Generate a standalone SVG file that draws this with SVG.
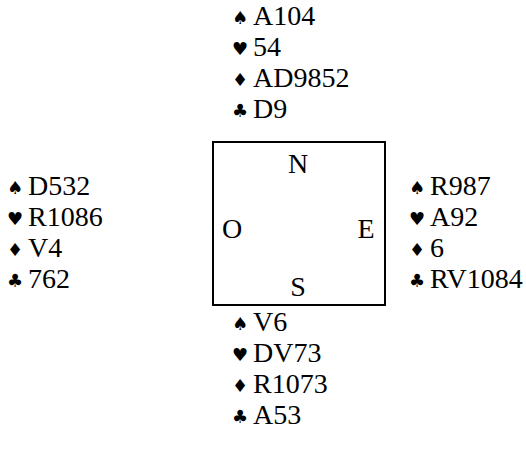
<svg xmlns="http://www.w3.org/2000/svg" width="526" height="457" viewBox="0 0 526 457">
<style>
text{font-family:"Liberation Serif","Times New Roman",serif;font-size:28px;fill:#000}
.s{font-family:"DejaVu Serif","DejaVu Sans",serif;font-size:18px}
</style>
<rect width="526" height="457" fill="#fff"/>
<g id="north">
<text class="s" x="232" y="24">♠</text><text x="253" y="25">A104</text>
<text class="s" x="232" y="55">♥</text><text x="253" y="56">54</text>
<text class="s" x="232" y="86">♦</text><text x="253" y="87">AD9852</text>
<text class="s" x="232" y="117">♣</text><text x="253" y="118">D9</text>
</g>
<g id="west">
<text class="s" x="7" y="194">♠</text><text x="28" y="195">D532</text>
<text class="s" x="7" y="225">♥</text><text x="28" y="226">R1086</text>
<text class="s" x="7" y="256">♦</text><text x="28" y="257">V4</text>
<text class="s" x="7" y="287">♣</text><text x="28" y="288">762</text>
</g>
<g id="east">
<text class="s" x="409" y="194">♠</text><text x="430" y="195">R987</text>
<text class="s" x="409" y="225">♥</text><text x="430" y="226">A92</text>
<text class="s" x="409" y="256">♦</text><text x="430" y="257">6</text>
<text class="s" x="409" y="287">♣</text><text x="430" y="288">RV1084</text>
</g>
<g id="south">
<text class="s" x="232" y="330">♠</text><text x="253" y="331">V6</text>
<text class="s" x="232" y="361">♥</text><text x="253" y="362">DV73</text>
<text class="s" x="232" y="392">♦</text><text x="253" y="393">R1073</text>
<text class="s" x="232" y="423">♣</text><text x="253" y="424">A53</text>
</g>
<g id="table">
<rect x="213" y="142" width="172" height="163" fill="none" stroke="#000" stroke-width="2"/>
<text x="298" y="173" text-anchor="middle">N</text>
<text x="232" y="238" text-anchor="middle">O</text>
<text x="366" y="238" text-anchor="middle">E</text>
<text x="298" y="296" text-anchor="middle">S</text>
</g>
</svg>
